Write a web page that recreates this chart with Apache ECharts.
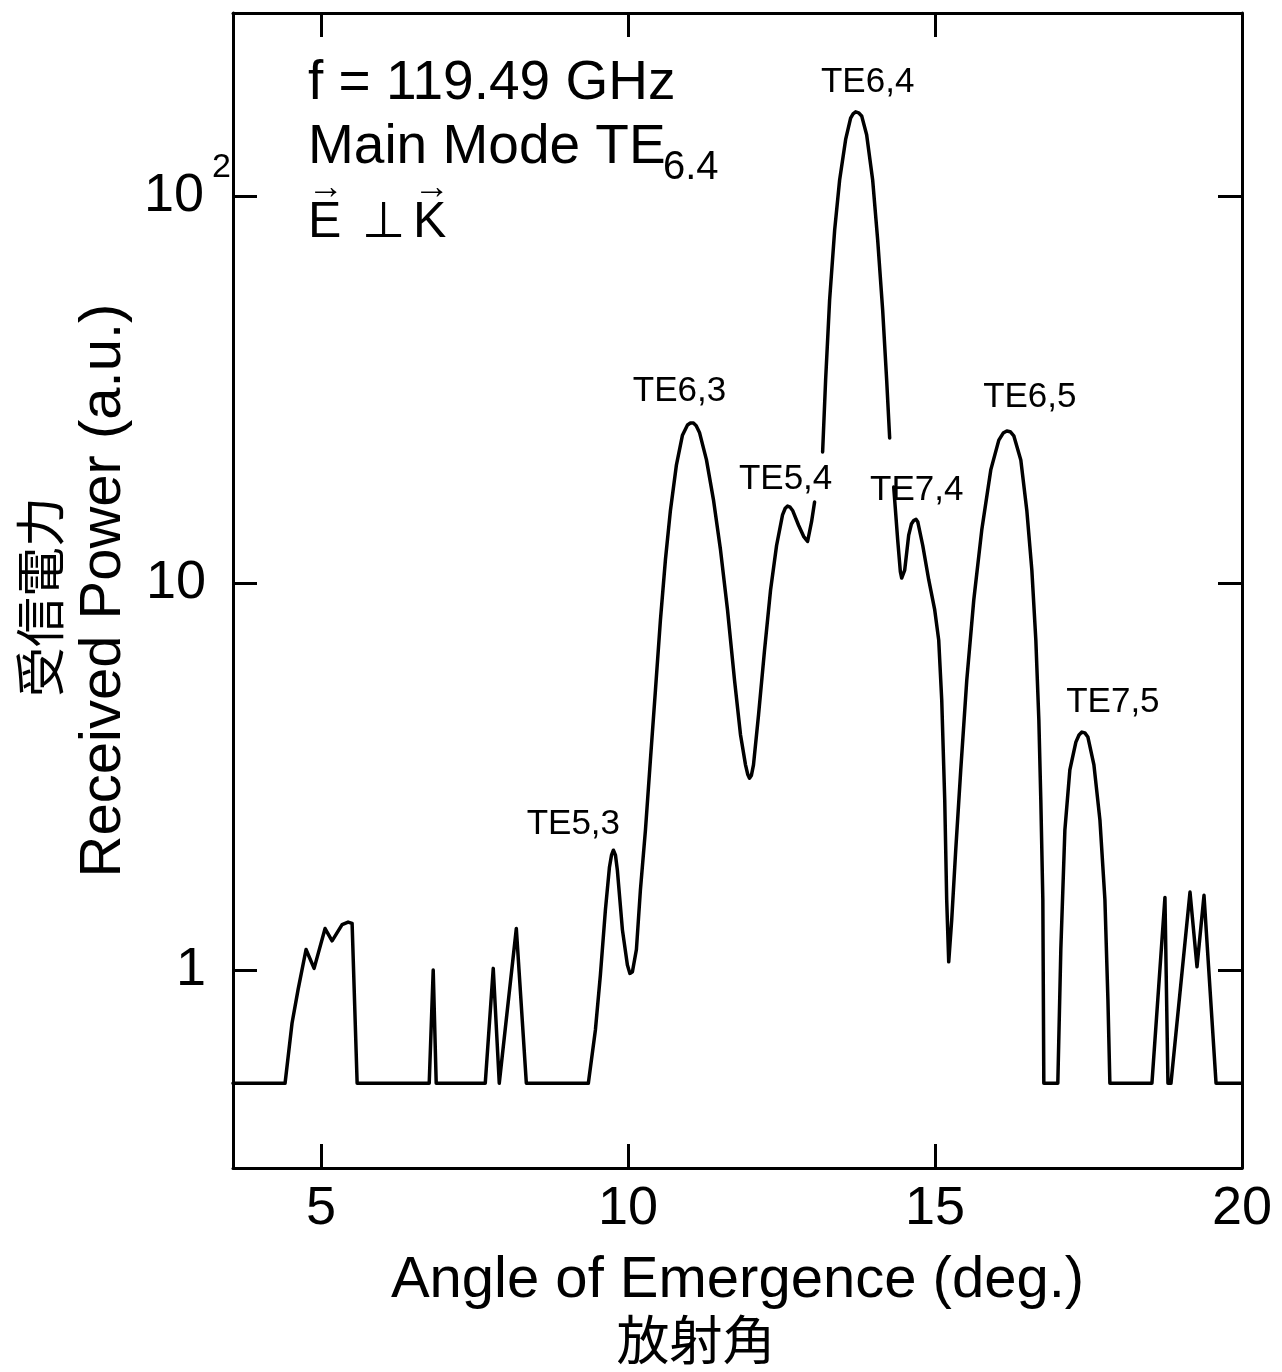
<!DOCTYPE html>
<html>
<head>
<meta charset="utf-8">
<script src="https://cdn.jsdelivr.net/npm/echarts@6/dist/echarts.min.js"></script>
<style>
  html, body { margin: 0; padding: 0; background: #fff; }
  #chart { width: 1282px; height: 1372px; }
</style>
</head>
<body>
<div id="chart"></div>
<script>
// Received power vs. angle of emergence (deg.), log scale; null marks a break in the trace
const angle = [
  3.565, 4.413, 4.527, 4.625, 4.755, 4.886, 5.065, 5.179, 5.342, 5.440, 5.505, 5.587,
  6.761, 6.826, 6.875,
  7.674, 7.804, 7.902, 8.180, 8.343,
  9.353, 9.468, 9.549, 9.631, 9.696, 9.730, 9.761, 9.795, 9.826, 9.908, 9.989, 10.030, 10.071, 10.136,
  10.201, 10.283, 10.364, 10.446, 10.527, 10.609, 10.690, 10.788, 10.886, 10.968, 11.015, 11.065,
  11.110, 11.163, 11.277, 11.391, 11.505, 11.620, 11.734, 11.832, 11.913, 11.950, 11.978, 12.008, 12.043,
  12.125, 12.223, 12.321, 12.419, 12.516, 12.560, 12.598, 12.640, 12.680, 12.777, 12.859, 12.924, 12.989, 13.038,
  13.100,
  13.169, 13.218, 13.283, 13.365, 13.446, 13.544, 13.625, 13.665, 13.707, 13.755, 13.805, 13.886, 13.984,
  14.066, 14.147, 14.212, 14.261,
  14.290,
  14.327, 14.392, 14.435, 14.457, 14.480, 14.506, 14.571, 14.615, 14.653, 14.690, 14.718, 14.800, 14.897, 14.995, 15.060,
  15.109, 15.158, 15.190, 15.223, 15.272, 15.337, 15.419, 15.517, 15.631, 15.761, 15.908,
  16.039, 16.110, 16.169, 16.225, 16.283, 16.397, 16.495, 16.577, 16.642, 16.691, 16.723, 16.756, 16.772,
  17.000, 17.049, 17.115, 17.196, 17.294, 17.345, 17.392, 17.440, 17.490, 17.588, 17.686, 17.767, 17.816, 17.848,
  18.533, 18.745, 18.794, 18.843, 19.153, 19.267, 19.381, 19.577, 20.000
];
const power = [
  0.51, 0.51, 0.73, 0.89, 1.13, 1.01, 1.28, 1.19, 1.31, 1.33, 1.32, 0.51,
  0.51, 1.00, 0.51,
  0.51, 1.01, 0.51, 1.28, 0.51,
  0.51, 0.70, 0.97, 1.43, 1.84, 1.98, 2.04, 1.98, 1.81, 1.27, 1.03, 0.98, 0.99, 1.13,
  1.61, 2.30, 3.49, 5.29, 8.02, 11.5, 15.4, 20.2, 24.1, 25.6, 25.9, 25.9,
  25.5, 24.5, 20.8, 16.4, 12.2, 8.52, 5.61, 4.05, 3.39, 3.20, 3.13, 3.18, 3.39,
  4.56, 6.71, 9.59, 12.5, 15.0, 15.6, 15.8, 15.7, 15.4, 14.1, 13.2, 12.8, 14.4, 16.2,
  null,
  21.8, 33.5, 53.9, 81.6, 110, 140, 159, 163, 165, 164, 161, 144, 110,
  76.9, 50.7, 33.5, 23.7,
  null,
  17.7, 12.9, 10.7, 10.3, 10.4, 10.8, 13.3, 14.2, 14.5, 14.6, 14.4, 12.5, 10.2, 8.52, 7.12,
  4.99, 2.75, 1.52, 1.05, 1.35, 2.04, 3.29, 5.61, 9.04, 13.7, 19.6,
  23.4, 24.4, 24.7, 24.6, 24.0, 20.8, 15.4, 10.8, 7.12, 4.43, 2.75, 1.52, 0.51,
  0.51, 1.13, 2.30, 3.29, 3.88, 4.05, 4.12, 4.10, 4.00, 3.39, 2.44, 1.52, 0.84, 0.51,
  0.51, 1.54, 0.51, 0.51, 1.59, 1.02, 1.56, 0.51, 0.51
];

// Mode identifications placed beside their peaks
const modeNames = ['TE5,3', 'TE6,3', 'TE5,4', 'TE6,4', 'TE7,4', 'TE6,5', 'TE7,5'];
const modeAngle = [9.109, 10.837, 12.566, 13.903, 14.702, 16.544, 17.897];
const modePower = [2.38, 31.2, 18.5, 197, 17.4, 30.2, 4.93];

// Axis ticks
const xTicks = [5, 10, 15, 20];
const yTicks = [1, 10, 100];

const FONT = '"Liberation Sans", "DejaVu Sans", sans-serif';
const CJK = '"Noto Sans CJK JP", "Noto Sans CJK SC", sans-serif';

const chart = echarts.init(document.getElementById('chart'), null, { renderer: 'canvas' });

const frameLine = { show: true, onZero: false, lineStyle: { color: '#000', width: 3 } };
const innerTick = { show: true, inside: true, length: 24, lineStyle: { color: '#000', width: 3 } };

function yLabel(v) {
  const e = Math.round(Math.log10(v));
  if (e >= 2) return '{b|10}{s|' + e + '}';
  return '{b|' + Math.round(v) + '}{p|}';
}

chart.setOption({
  animation: false,
  backgroundColor: '#fff',
  grid: { left: 233, right: 40, top: 13, bottom: 204, containLabel: false },
  xAxis: [{
    type: 'value',
    position: 'bottom',
    min: 3.565,
    max: 20,
    axisLine: frameLine,
    axisTick: Object.assign({}, innerTick, { customValues: xTicks }),
    axisLabel: {
      customValues: xTicks,
      margin: 14,
      color: '#000',
      fontFamily: FONT,
      fontSize: 54
    },
    splitLine: { show: false },
    name: 'Angle of Emergence (deg.)',
    nameLocation: 'middle',
    nameGap: 84,
    nameTextStyle: { color: '#000', fontFamily: FONT, fontSize: 58 }
  }, {
    type: 'value',
    position: 'top',
    min: 3.565,
    max: 20,
    axisLine: frameLine,
    axisTick: Object.assign({}, innerTick, { customValues: xTicks }),
    axisLabel: { show: false },
    splitLine: { show: false }
  }],
  yAxis: [{
    type: 'log',
    logBase: 10,
    position: 'left',
    min: 0.308,
    max: 297,
    axisLine: frameLine,
    axisTick: Object.assign({}, innerTick, { customValues: yTicks }),
    axisLabel: {
      customValues: yTicks,
      margin: 2,
      color: '#000',
      formatter: yLabel,
      rich: {
        b: { fontFamily: FONT, fontSize: 54, lineHeight: 90, color: '#000' },
        s: { fontFamily: FONT, fontSize: 34, verticalAlign: 'top', lineHeight: 40, padding: [0, 0, 0, 8], color: '#000' },
        p: { width: 25 }
      }
    },
    minorTick: { show: false },
    splitLine: { show: false },
    name: 'Received Power (a.u.)',
    nameLocation: 'middle',
    nameGap: 95,
    nameTextStyle: { color: '#000', fontFamily: FONT, fontSize: 58 }
  }, {
    type: 'log',
    logBase: 10,
    position: 'right',
    min: 0.308,
    max: 297,
    axisLine: frameLine,
    axisTick: Object.assign({}, innerTick, { customValues: yTicks }),
    axisLabel: { show: false },
    minorTick: { show: false },
    splitLine: { show: false }
  }],
  series: [{
    type: 'line',
    xAxisIndex: 0,
    yAxisIndex: 0,
    data: angle.map((a, i) => [a, power[i]]),
    showSymbol: false,
    symbol: 'none',
    connectNulls: false,
    smooth: false,
    lineStyle: { color: '#000', width: 3.5, join: 'round', cap: 'round' },
    silent: true,
    z: 3
  }, {
    type: 'scatter',
    xAxisIndex: 0,
    yAxisIndex: 0,
    symbolSize: 0,
    silent: true,
    data: modeNames.map((n, i) => ({ name: n, value: [modeAngle[i], modePower[i]] })),
    label: {
      show: true,
      position: 'inside',
      formatter: p => p.name,
      color: '#000',
      opacity: 1,
      textBorderWidth: 0,
      fontFamily: FONT,
      fontSize: 35
    },
    z: 4
  }],
  graphic: [
    { type: 'text', left: 308, top: 56, style: { text: 'f = 119.49 GHz', fontFamily: FONT, fontSize: 55, fill: '#000' } },
    { type: 'text', left: 308, top: 120, style: { text: 'Main Mode TE', fontFamily: FONT, fontSize: 55, fill: '#000' } },
    { type: 'text', left: 663, top: 148, style: { text: '6.4', fontFamily: FONT, fontSize: 40, fill: '#000' } },
    { type: 'text', left: 308, top: 198, style: { text: 'E', fontFamily: FONT, fontSize: 50, fill: '#000' } },
    { type: 'text', left: 362, top: 198, style: { text: '\u22a5', fontFamily: FONT, fontSize: 50, fill: '#000' } },
    { type: 'text', left: 413, top: 198, style: { text: 'K', fontFamily: FONT, fontSize: 50, fill: '#000' } },
    { type: 'text', left: 308, top: 170, style: { text: '\u2192', fontFamily: FONT, fontSize: 36, fill: '#000' } },
    { type: 'text', left: 414, top: 170, style: { text: '\u2192', fontFamily: FONT, fontSize: 36, fill: '#000' } },
    { type: 'text', x: 40, y: 597, rotation: Math.PI / 2,
      style: { text: '受信電力', fontFamily: CJK, fontSize: 50, fill: '#000', align: 'center', verticalAlign: 'middle' } },
    { type: 'text', x: 696, y: 1340,
      style: { text: '放射角', fontFamily: CJK, fontSize: 53, fill: '#000', align: 'center', verticalAlign: 'middle' } }
  ]
});
</script>
</body>
</html>
